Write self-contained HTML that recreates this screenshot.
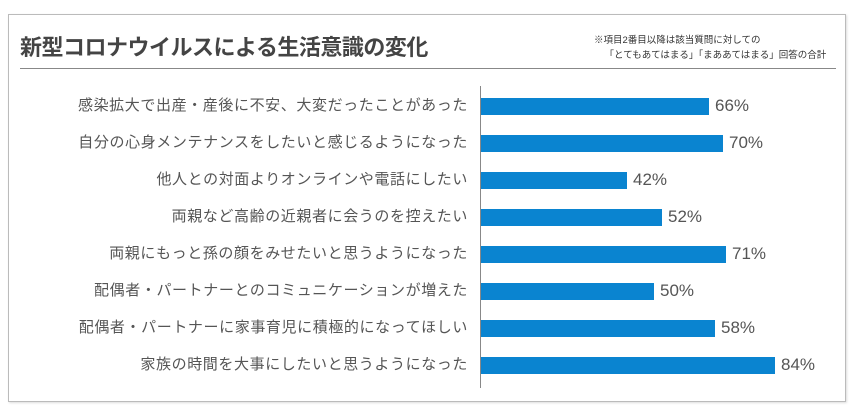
<!DOCTYPE html>
<html><head><meta charset="utf-8"><style>
body{margin:0;width:860px;height:416px;background:#fff;font-family:"Liberation Sans","Noto Sans CJK JP",sans-serif;position:relative;overflow:hidden}
.box{position:absolute;left:8px;top:14px;width:836px;height:386px;border:1px solid #bbb;box-shadow:1px 1px 2px #ddd}
.t{position:absolute;left:20px;top:30px;font-size:22px;font-weight:bold;color:#444;letter-spacing:-0.5px}
.n{position:absolute;left:594px;top:33px;font-size:9.5px;color:#333;line-height:15px}
.hr{position:absolute;left:20px;top:68px;width:816px;height:1px;background:#888}
.ax{position:absolute;left:480px;top:86px;width:1px;height:302px;background:#888}
.l{position:absolute;right:392px;font-size:15px;color:#555;white-space:nowrap;line-height:18px;letter-spacing:0.6px}
.b{position:absolute;left:481px;height:17px;background:#0a84d0}
.p{position:absolute;font-size:17px;color:#555;line-height:18px}
</style></head><body>
<div class="box"></div>
<div class="t">新型コロナウイルスによる生活意識の変化</div>
<div class="n">※項目2番目以降は該当質問に対しての<br>&nbsp;&nbsp;&nbsp;&nbsp;「とてもあてはまる」「まああてはまる」回答の合計</div>
<div class="hr"></div>
<div class="ax"></div>
<div class="l" style="top:97px">感染拡大で出産・産後に不安、大変だったことがあった</div>
<div class="b" style="top:98px;width:228px"></div><div class="p" style="top:97px;left:715px">66%</div>
<div class="l" style="top:134px">自分の心身メンテナンスをしたいと感じるようになった</div>
<div class="b" style="top:135px;width:242px"></div><div class="p" style="top:134px;left:729px">70%</div>
<div class="l" style="top:171px">他人との対面よりオンラインや電話にしたい</div>
<div class="b" style="top:172px;width:146px"></div><div class="p" style="top:171px;left:633px">42%</div>
<div class="l" style="top:208px">両親など高齢の近親者に会うのを控えたい</div>
<div class="b" style="top:209px;width:181px"></div><div class="p" style="top:208px;left:668px">52%</div>
<div class="l" style="top:245px">両親にもっと孫の顔をみせたいと思うようになった</div>
<div class="b" style="top:246px;width:245px"></div><div class="p" style="top:245px;left:732px">71%</div>
<div class="l" style="top:282px">配偶者・パートナーとのコミュニケーションが増えた</div>
<div class="b" style="top:283px;width:173px"></div><div class="p" style="top:282px;left:660px">50%</div>
<div class="l" style="top:319px">配偶者・パートナーに家事育児に積極的になってほしい</div>
<div class="b" style="top:320px;width:234px"></div><div class="p" style="top:319px;left:721px">58%</div>
<div class="l" style="top:356px">家族の時間を大事にしたいと思うようになった</div>
<div class="b" style="top:357px;width:294px"></div><div class="p" style="top:356px;left:781px">84%</div>
</body></html>
